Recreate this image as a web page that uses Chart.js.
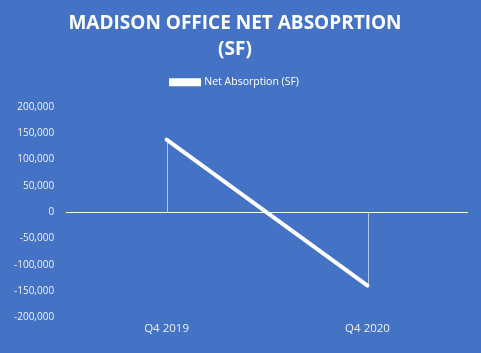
<!DOCTYPE html>
<html>
<head>
<meta charset="utf-8">
<script src="https://cdn.jsdelivr.net/npm/chart.js@4"></script>
<style>
  html, body { margin: 0; padding: 0; background: #4472c4; }
  #wrap { width: 481px; height: 353px; }
</style>
</head>
<body>
<div id="wrap"><canvas id="chart" width="481" height="353"></canvas></div>
<script>
const quarters = ['Q4 2019', 'Q4 2020'];
const netAbsorption = [138000, -140000];
const titleLines = ['MADISON OFFICE NET ABSOPRTION', '(SF)'];

// thin drop lines from each point to the zero line
const dropLines = {
  id: 'dropLines',
  beforeDatasetsDraw(chart) {
    const ctx = chart.ctx;
    const yScale = chart.scales.y;
    const zero = yScale.getPixelForValue(0);
    const meta = chart.getDatasetMeta(0);
    ctx.save();
    ctx.strokeStyle = 'rgba(255,255,255,0.6)';
    ctx.lineWidth = 1;
    meta.data.forEach(pt => {
      ctx.beginPath();
      ctx.moveTo(Math.round(pt.x) + 0.5, pt.y);
      ctx.lineTo(Math.round(pt.x) + 0.5, zero);
      ctx.stroke();
    });
    ctx.restore();
  }
};

const ctx = document.getElementById('chart').getContext('2d');
new Chart(ctx, {
  type: 'line',
  data: {
    labels: quarters,
    datasets: [{
      label: 'Net Absorption (SF)',
      data: netAbsorption,
      borderColor: '#ffffff',
      backgroundColor: '#ffffff',
      borderWidth: 4,
      borderCapStyle: 'round',
      pointRadius: 0,
      tension: 0
    }]
  },
  options: {
    responsive: false,
    animation: false,
    layout: { padding: { left: 2, right: 13, top: 8, bottom: 12 } },
    plugins: {
      title: {
        display: true,
        text: titleLines,
        color: '#ffffff',
        font: { family: 'Open Sans', size: 19, weight: 'bold', lineHeight: 1.37 },
        padding: { top: 3, bottom: 8 }
      },
      // empty spacer between legend and plot
      subtitle: {
        display: true,
        text: '',
        weight: 500,
        font: { size: 1, lineHeight: 1.5 },
        padding: { top: 0, bottom: 8 }
      },
      legend: {
        display: true,
        labels: {
          color: '#ffffff',
          font: { family: 'Open Sans', size: 10.5 },
          boxWidth: 28,
          boxHeight: 4,
          padding: 6
        }
      },
      tooltip: { enabled: false }
    },
    scales: {
      x: {
        offset: true,
        grid: { display: false, drawTicks: false },
        border: { display: false },
        ticks: {
          color: '#f0f0f0',
          font: { family: 'Open Sans', size: 11.5 },
          padding: 5
        }
      },
      y: {
        min: -200000,
        max: 200000,
        border: { display: false },
        grid: {
          drawTicks: false,
          color: c => (c.tick && c.tick.value === 0) ? '#ffffff' : 'rgba(0,0,0,0)',
          lineWidth: 1
        },
        ticks: {
          stepSize: 50000,
          color: '#f0f0f0',
          font: { family: 'Open Sans', size: 10 },
          padding: 12,
          callback: v => v.toLocaleString('en-US')
        }
      }
    }
  },
  plugins: [dropLines]
});
</script>
</body>
</html>
